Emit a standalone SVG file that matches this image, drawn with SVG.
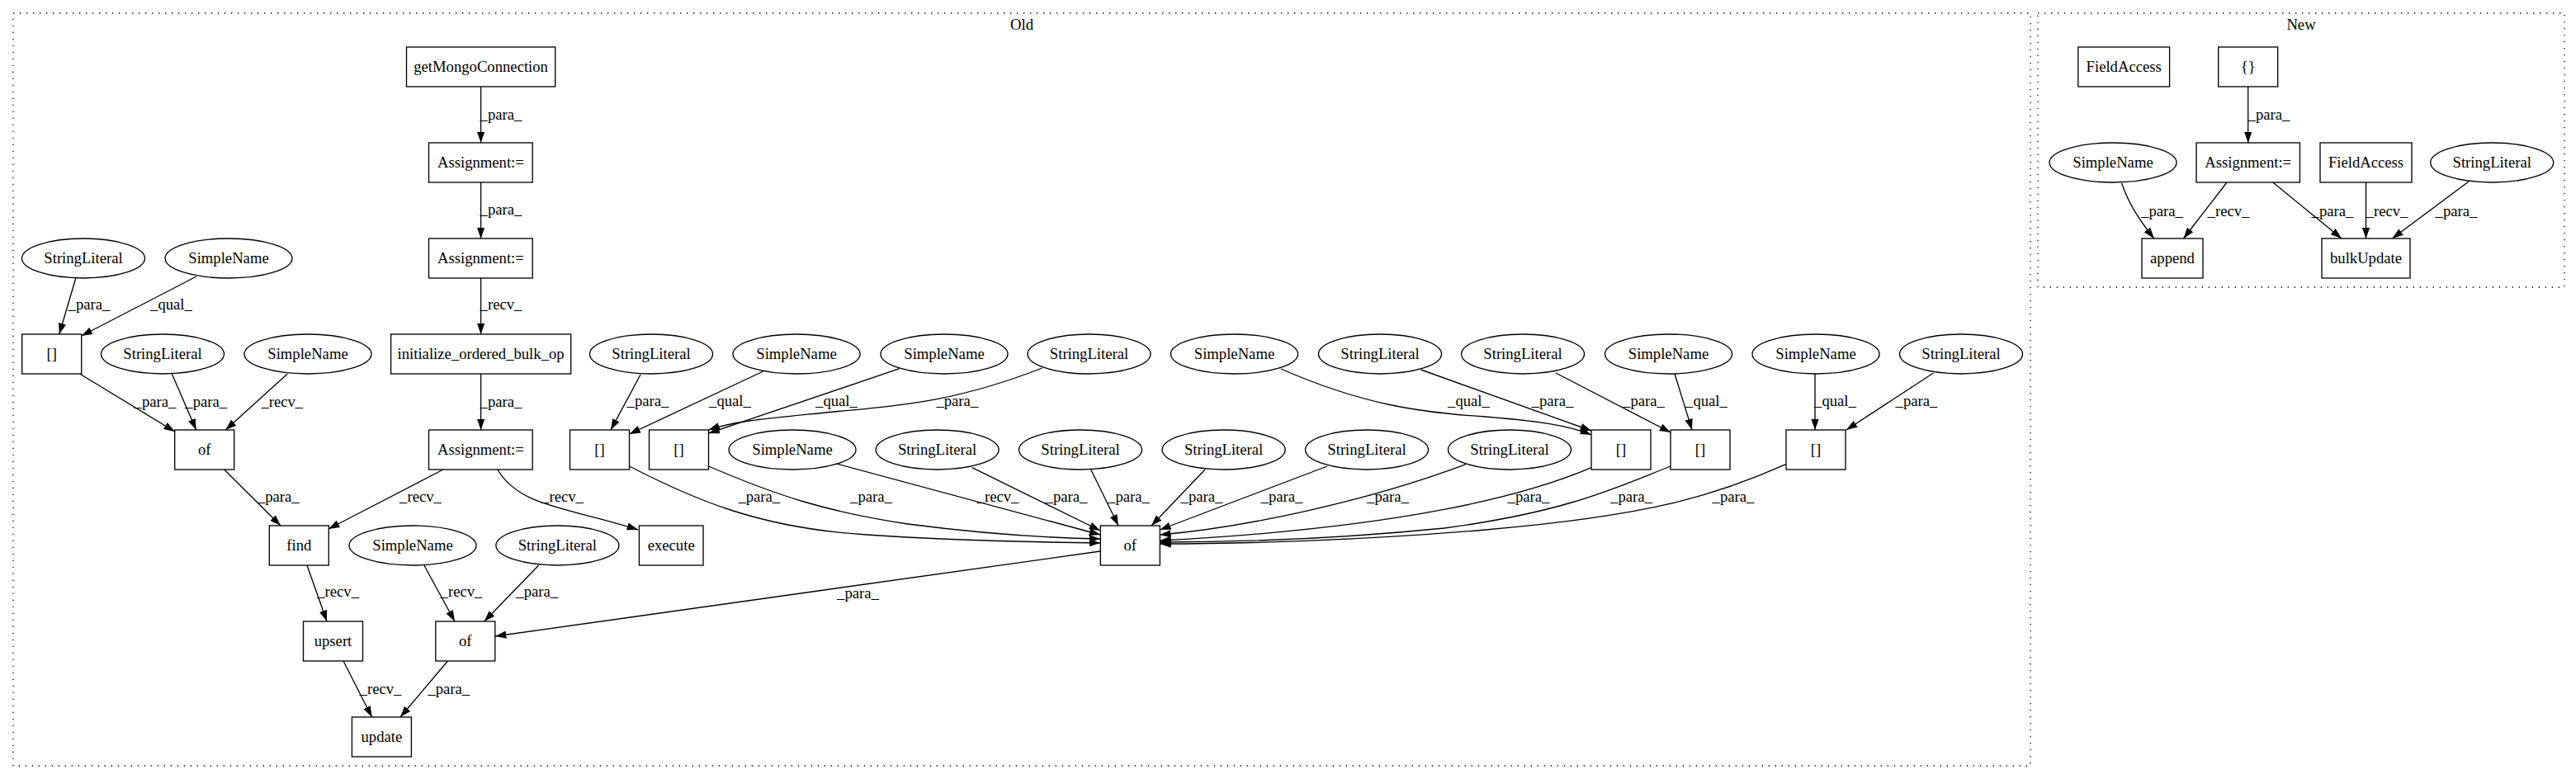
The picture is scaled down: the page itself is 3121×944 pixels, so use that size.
<svg xmlns="http://www.w3.org/2000/svg" width="3121" height="944" viewBox="0 0 3121 944">
<style>
.b{fill:#fff;stroke:#000;stroke-width:1.33}
.t{font-family:"Liberation Serif","Times New Roman",serif;font-size:18.67px;text-anchor:middle;fill:#000}
.e{fill:none;stroke:#000;stroke-width:1.33;marker-end:url(#ah)}
.cl{fill:none;stroke:#000;stroke-width:1.33;stroke-dasharray:1.33,6.67}
</style>
<defs>
<marker id="ah" markerUnits="userSpaceOnUse" viewBox="0 0 13.33 9.33" refX="13.33" refY="4.67" markerWidth="13.33" markerHeight="9.33" orient="auto"><path d="M0,0 L13.33,4.67 L0,9.33 z" fill="#000"/></marker>
</defs>
<rect x="0" y="0" width="3121" height="944" fill="#fff"/>
<g id="cluster-old">
<rect class="cl" x="16" y="16" width="2444" height="912"/>
<text class="t" x="1238" y="36">Old</text>
</g>
<g id="cluster-new">
<rect class="cl" x="2469" y="16" width="638" height="332"/>
<text class="t" x="2788" y="36">New</text>
</g>
<g id="connectors">
<path class="e" d="M582.6,105 L582.6,173"/>
<path class="e" d="M582.6,221 L582.6,289"/>
<path class="e" d="M582.6,337 L582.6,405"/>
<path class="e" d="M582.6,453 L582.6,521"/>
<path class="e" d="M536.8,569 L398,641"/>
<path class="e" d="M602.8,569 C630,615 690,615 773,642"/>
<path class="e" d="M91.8,337 L71.8,405"/>
<path class="e" d="M238,335 L98.7,407"/>
<path class="e" d="M96.7,453 L211.7,523"/>
<path class="e" d="M208.3,453 L237.7,521"/>
<path class="e" d="M348.3,453 L273.3,521"/>
<path class="e" d="M271.7,569 L340,637"/>
<path class="e" d="M372,685 L396,753"/>
<path class="e" d="M513.8,685 L551,753"/>
<path class="e" d="M652.7,685 L586.7,753"/>
<path class="e" d="M1333,668 L600,771"/>
<path class="e" d="M416,801 L450.6,869"/>
<path class="e" d="M542.5,801 L485,869"/>
<path class="e" d="M776,454 L740,521"/>
<path class="e" d="M924.6,450 L762.6,526"/>
<path class="e" d="M1089.8,446.7 L858.6,525"/>
<path class="e" d="M1262.6,446 C1150,490 1080,492 1000,500 C930,507 890,510 858.6,521"/>
<path class="e" d="M762.6,565 C840,605 920,640 1050,648 C1150,655 1250,657 1333,658"/>
<path class="e" d="M858.6,565 C940,600 1000,620 1100,635 C1200,648 1280,652 1333,653"/>
<path class="e" d="M1012.6,561.7 L1333,648"/>
<path class="e" d="M1177.8,566.7 L1333,643"/>
<path class="e" d="M1321.7,569 L1355,637"/>
<path class="e" d="M1460,569 L1395,637"/>
<path class="e" d="M1608,565 L1405.3,642"/>
<path class="e" d="M1776,562.7 C1650,610 1500,640 1405.3,648"/>
<path class="e" d="M1928,566.7 C1850,600 1700,640 1405.3,655"/>
<path class="e" d="M2024,565 C1960,590 1900,620 1750,640 C1600,655 1480,657 1405.3,657"/>
<path class="e" d="M2163.6,562.7 C2080,600 2000,625 1800,642 C1650,655 1500,659 1405.3,659"/>
<path class="e" d="M1552,447 C1650,490 1720,500 1800,505 C1860,510 1900,515 1928,527"/>
<path class="e" d="M1721.6,448 L1928,522"/>
<path class="e" d="M1885,452 L2024,524"/>
<path class="e" d="M2029,453 L2050,521"/>
<path class="e" d="M2199,453 L2199,521"/>
<path class="e" d="M2342.5,452 L2237,521"/>
<path class="e" d="M2723.7,105 L2723.7,173"/>
<path class="e" d="M2570.5,221.7 C2580,250 2595,270 2609.7,289"/>
<path class="e" d="M2698,221 L2645.5,289"/>
<path class="e" d="M2753.8,221 L2837,289"/>
<path class="e" d="M2866.5,221 L2866.5,289"/>
<path class="e" d="M2991,220 L2898.4,289"/>
<text class="t" x="607" y="145">_para_</text>
<text class="t" x="607" y="260">_para_</text>
<text class="t" x="607" y="375">_recv_</text>
<text class="t" x="607" y="493">_para_</text>
<text class="t" x="108" y="375">_para_</text>
<text class="t" x="207.5" y="375">_qual_</text>
<text class="t" x="188" y="493">_para_</text>
<text class="t" x="249.7" y="493">_para_</text>
<text class="t" x="341.8" y="493">_recv_</text>
<text class="t" x="337.3" y="608">_para_</text>
<text class="t" x="509.5" y="608">_recv_</text>
<text class="t" x="681.5" y="608">_recv_</text>
<text class="t" x="409.6" y="723">_recv_</text>
<text class="t" x="559" y="723">_recv_</text>
<text class="t" x="650.7" y="723">_para_</text>
<text class="t" x="1039.5" y="725">_para_</text>
<text class="t" x="461" y="841">_recv_</text>
<text class="t" x="543.8" y="841">_para_</text>
<text class="t" x="785" y="492">_para_</text>
<text class="t" x="884.5" y="492">_qual_</text>
<text class="t" x="1013.5" y="492">_qual_</text>
<text class="t" x="1159.8" y="492">_para_</text>
<text class="t" x="919.8" y="608">_para_</text>
<text class="t" x="1055.5" y="608">_para_</text>
<text class="t" x="1209" y="608">_recv_</text>
<text class="t" x="1292" y="608">_para_</text>
<text class="t" x="1367.5" y="608">_para_</text>
<text class="t" x="1456" y="608">_para_</text>
<text class="t" x="1553" y="608">_para_</text>
<text class="t" x="1681.5" y="608">_para_</text>
<text class="t" x="1852" y="608">_para_</text>
<text class="t" x="1976.5" y="608">_para_</text>
<text class="t" x="2100" y="608">_para_</text>
<text class="t" x="1779.5" y="492">_qual_</text>
<text class="t" x="1881" y="492">_para_</text>
<text class="t" x="1991.5" y="492">_para_</text>
<text class="t" x="2067.5" y="492">_qual_</text>
<text class="t" x="2223.5" y="492">_qual_</text>
<text class="t" x="2322" y="492">_para_</text>
<text class="t" x="2749" y="145">_para_</text>
<text class="t" x="2619.5" y="262">_para_</text>
<text class="t" x="2700" y="262">_recv_</text>
<text class="t" x="2826" y="262">_para_</text>
<text class="t" x="2892" y="262">_recv_</text>
<text class="t" x="2976" y="262">_para_</text>
</g>
<g id="getMongoConnection"><rect class="b" x="492.5" y="57" width="180.2" height="48"/><text class="t" x="582.6" y="87">getMongoConnection</text></g>
<g id="assign1"><rect class="b" x="519.5" y="173" width="125.7" height="48"/><text class="t" x="582.4" y="203">Assignment:=</text></g>
<g id="assign2"><rect class="b" x="519.5" y="289" width="125.7" height="48"/><text class="t" x="582.4" y="319">Assignment:=</text></g>
<g id="initialize_ordered_bulk_op"><rect class="b" x="473.6" y="405" width="218.1" height="48"/><text class="t" x="582.6" y="435">initialize_ordered_bulk_op</text></g>
<g id="assign3"><rect class="b" x="519.5" y="521" width="125.7" height="48"/><text class="t" x="582.4" y="551">Assignment:=</text></g>
<g id="idxL"><rect class="b" x="26.7" y="405" width="72" height="48"/><text class="t" x="62.7" y="435">[]</text></g>
<g id="ofL"><rect class="b" x="211.7" y="521" width="72" height="48"/><text class="t" x="247.7" y="551">of</text></g>
<g id="find"><rect class="b" x="326.3" y="637" width="72" height="48"/><text class="t" x="362.3" y="667">find</text></g>
<g id="execute"><rect class="b" x="774.4" y="637" width="77.6" height="48"/><text class="t" x="813.2" y="667">execute</text></g>
<g id="upsert"><rect class="b" x="367.5" y="753" width="72" height="48"/><text class="t" x="403.5" y="783">upsert</text></g>
<g id="ofM"><rect class="b" x="527.8" y="753" width="72" height="48"/><text class="t" x="563.8" y="783">of</text></g>
<g id="update"><rect class="b" x="426.4" y="869" width="72" height="48"/><text class="t" x="462.4" y="899">update</text></g>
<g id="idxA"><rect class="b" x="690.5" y="521" width="72" height="48"/><text class="t" x="726.5" y="551">[]</text></g>
<g id="idxB"><rect class="b" x="786.5" y="521" width="72" height="48"/><text class="t" x="822.5" y="551">[]</text></g>
<g id="ofBig"><rect class="b" x="1333.3" y="637" width="72" height="48"/><text class="t" x="1369.3" y="667">of</text></g>
<g id="idxC"><rect class="b" x="1928" y="521" width="72" height="48"/><text class="t" x="1964" y="551">[]</text></g>
<g id="idxD"><rect class="b" x="2024" y="521" width="72" height="48"/><text class="t" x="2060" y="551">[]</text></g>
<g id="idxE"><rect class="b" x="2164" y="521" width="72" height="48"/><text class="t" x="2200" y="551">[]</text></g>
<g id="sl_r2"><ellipse class="b" cx="101" cy="313" rx="74.5" ry="24"/><text class="t" x="101" y="319">StringLiteral</text></g>
<g id="sn_r2"><ellipse class="b" cx="277" cy="313" rx="77" ry="24"/><text class="t" x="277" y="319">SimpleName</text></g>
<g id="sl_r3a"><ellipse class="b" cx="197" cy="429" rx="74.5" ry="24"/><text class="t" x="197" y="435">StringLiteral</text></g>
<g id="sn_r3a"><ellipse class="b" cx="373" cy="429" rx="77" ry="24"/><text class="t" x="373" y="435">SimpleName</text></g>
<g id="sl_r3b"><ellipse class="b" cx="789" cy="429" rx="74.5" ry="24"/><text class="t" x="789" y="435">StringLiteral</text></g>
<g id="sn_r3b"><ellipse class="b" cx="965" cy="429" rx="77" ry="24"/><text class="t" x="965" y="435">SimpleName</text></g>
<g id="sn_r3c"><ellipse class="b" cx="1144" cy="429" rx="77" ry="24"/><text class="t" x="1144" y="435">SimpleName</text></g>
<g id="sl_r3c"><ellipse class="b" cx="1319.5" cy="429" rx="74.5" ry="24"/><text class="t" x="1319.5" y="435">StringLiteral</text></g>
<g id="sn_r3d"><ellipse class="b" cx="1495.5" cy="429" rx="77" ry="24"/><text class="t" x="1495.5" y="435">SimpleName</text></g>
<g id="sl_r3d"><ellipse class="b" cx="1672" cy="429" rx="74.5" ry="24"/><text class="t" x="1672" y="435">StringLiteral</text></g>
<g id="sl_r3e"><ellipse class="b" cx="1845" cy="429" rx="74.5" ry="24"/><text class="t" x="1845" y="435">StringLiteral</text></g>
<g id="sn_r3e"><ellipse class="b" cx="2021.5" cy="429" rx="77" ry="24"/><text class="t" x="2021.5" y="435">SimpleName</text></g>
<g id="sn_r3f"><ellipse class="b" cx="2200" cy="429" rx="77" ry="24"/><text class="t" x="2200" y="435">SimpleName</text></g>
<g id="sl_r3f"><ellipse class="b" cx="2376" cy="429" rx="74.5" ry="24"/><text class="t" x="2376" y="435">StringLiteral</text></g>
<g id="sn_r4"><ellipse class="b" cx="960" cy="545" rx="77" ry="24"/><text class="t" x="960" y="551">SimpleName</text></g>
<g id="sl_r4a"><ellipse class="b" cx="1135.6" cy="545" rx="74.5" ry="24"/><text class="t" x="1135.6" y="551">StringLiteral</text></g>
<g id="sl_r4b"><ellipse class="b" cx="1309" cy="545" rx="74.5" ry="24"/><text class="t" x="1309" y="551">StringLiteral</text></g>
<g id="sl_r4c"><ellipse class="b" cx="1482.6" cy="545" rx="74.5" ry="24"/><text class="t" x="1482.6" y="551">StringLiteral</text></g>
<g id="sl_r4d"><ellipse class="b" cx="1656" cy="545" rx="74.5" ry="24"/><text class="t" x="1656" y="551">StringLiteral</text></g>
<g id="sl_r4e"><ellipse class="b" cx="1829" cy="545" rx="74.5" ry="24"/><text class="t" x="1829" y="551">StringLiteral</text></g>
<g id="sn_r5"><ellipse class="b" cx="500" cy="661" rx="77" ry="24"/><text class="t" x="500" y="667">SimpleName</text></g>
<g id="sl_r5"><ellipse class="b" cx="675.4" cy="661" rx="74.5" ry="24"/><text class="t" x="675.4" y="667">StringLiteral</text></g>
<g id="new_fieldaccess1"><rect class="b" x="2517.8" y="57" width="110.8" height="48"/><text class="t" x="2573.2" y="87">FieldAccess</text></g>
<g id="new_braces"><rect class="b" x="2687.7" y="57" width="72" height="48"/><text class="t" x="2723.7" y="87">{}</text></g>
<g id="new_simplename"><ellipse class="b" cx="2560" cy="197" rx="77" ry="24"/><text class="t" x="2560" y="203">SimpleName</text></g>
<g id="new_assign"><rect class="b" x="2661" y="173" width="125.4" height="48"/><text class="t" x="2723.7" y="203">Assignment:=</text></g>
<g id="new_fieldaccess2"><rect class="b" x="2811" y="173" width="111" height="48"/><text class="t" x="2866.5" y="203">FieldAccess</text></g>
<g id="new_stringliteral"><ellipse class="b" cx="3019.2" cy="197" rx="74.5" ry="24"/><text class="t" x="3019.2" y="203">StringLiteral</text></g>
<g id="new_append"><rect class="b" x="2595" y="289" width="74" height="48"/><text class="t" x="2632" y="319">append</text></g>
<g id="new_bulkUpdate"><rect class="b" x="2813" y="289" width="107" height="48"/><text class="t" x="2866.5" y="319">bulkUpdate</text></g>
</svg>
